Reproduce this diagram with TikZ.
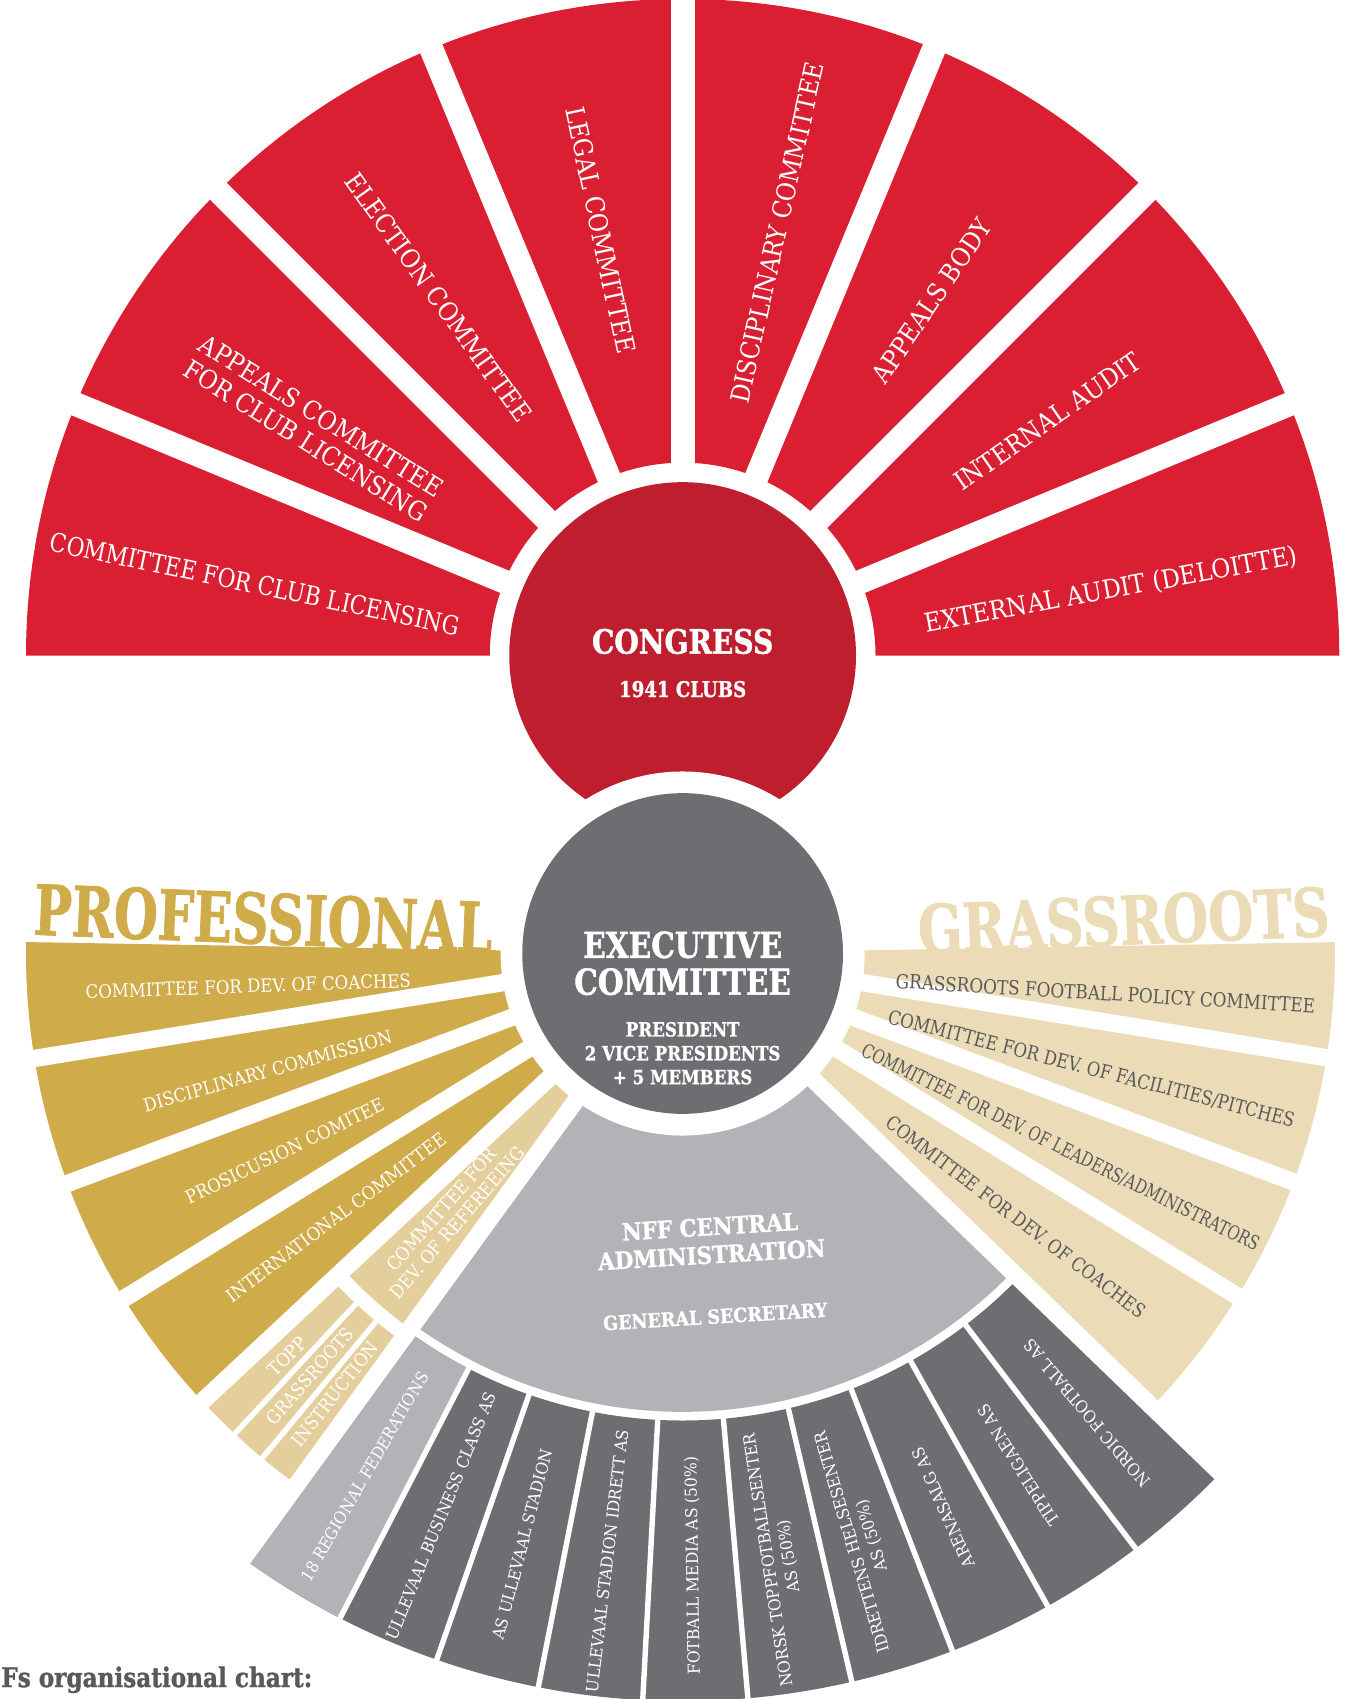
\documentclass[tikz,border=0pt]{standalone}
\usepackage{fontspec}
\setmainfont{DejaVu Serif Condensed}
\newfontface\heavyfont[FakeBold=1.2]{DejaVu Serif Condensed Bold}
\definecolor{nffred}{HTML}{DA1F33}
\definecolor{congressred}{HTML}{BE1E2D}
\definecolor{execgrey}{HTML}{6D6E71}
\definecolor{admingrey}{HTML}{B1B3B6}
\definecolor{nffgold}{HTML}{CFAB4A}
\definecolor{lightgold}{HTML}{E4CF9C}
\definecolor{beige}{HTML}{EBDCB7}
\definecolor{textgrey}{HTML}{58595B}
% centre, start angle, end angle, inner radius, outer radius, colour
\newcommand\ringpart[6]{%
  \fill[#6] ([shift={(#2:#5)}]#1) arc[start angle=#2, end angle=#3, radius=#5]
    -- ([shift={(#3:#4)}]#1) arc[start angle=#3, end angle=#2, radius=#4] -- cycle;}

\begin{document}
\begin{tikzpicture}[x=1pt,y=1pt,
  redlabel/.style={text=white, font=\fontsize{24}{27}\selectfont, align=center},
  prolabel/.style={text=white, font=\fontsize{17}{19}\selectfont, align=center},
  grlabel/.style={text=textgrey, font=\fontsize{18}{20}\selectfont},
  ringlabel/.style={text=white, font=\fontsize{16}{20}\selectfont, align=center, xscale=0.95},
  gapline/.style={white, line width=#1}]
\useasboundingbox (0,0) rectangle (1253,1568);
\coordinate (congress c) at (630,963);
\coordinate (exec c) at (630,688);

% congress fan
\ringpart{congress c}{0}{180}{178}{606}{nffred}
\foreach \a in {22.5,45,...,157.5}
  \draw[gapline=22pt] (congress c) -- ++(\a:640);
\fill[congressred] (congress c) circle[radius=160];

% lower fans
\ringpart{exec c}{179}{223}{1}{606}{nffgold}
\ringpart{exec c}{223}{234}{1}{428}{lightgold}
\ringpart{exec c}{223}{234}{442}{606}{lightgold}
\ringpart{exec c}{234}{316}{1}{423}{admingrey}
\ringpart{exec c}{234}{316}{431}{690}{execgrey}
\ringpart{exec c}{234}{242.73}{431}{690}{admingrey}
\ringpart{exec c}{316}{361}{1}{602}{beige}
\foreach \k in {1,...,9}
  \draw[gapline=5pt] ([shift={({234.66+8.07*\k}:425)}]exec c) -- ([shift={({234.66+8.07*\k}:700)}]exec c);
\foreach \a in {227,230.2}
  \draw[gapline=5pt] ([shift={(\a:436)}]exec c) -- ([shift={(\a:615)}]exec c);
\foreach \a in {189.2,200.5,211.7,223,234,316,328.3,339.5,350.8}
  \draw[gapline=16pt] (exec c) -- ++(\a:700);
\fill[white] (exec c) circle[radius=168];
\fill[execgrey] (exec c) circle[radius=148];

% titles
\node[text=nffgold, font=\heavyfont\fontsize{64}{64}\selectfont, rotate=-2.3, xscale=0.81, anchor=base] (professional) at (242,697) {PROFESSIONAL};
\node[text=beige, font=\heavyfont\fontsize{62}{62}\selectfont, rotate=2.5, xscale=0.86, anchor=base] (grassroots) at (1038,696) {GRASSROOTS};

% circles
\node[text=white, font=\heavyfont\fontsize{31}{31}\selectfont, xscale=0.93] (congress) at (630,976) {CONGRESS};
\node[text=white, font=\heavyfont\fontsize{20}{20}\selectfont, xscale=0.93] (clubs) at (630,932) {1941 CLUBS};
\node[text=white, font=\heavyfont\fontsize{33}{34}\selectfont, align=center, xscale=0.92] (exec) at (630,679) {EXECUTIVE\\COMMITTEE};
\node[text=white, font=\heavyfont\fontsize{18}{22}\selectfont, align=center, xscale=0.95] (board) at (630,596) {PRESIDENT\\2 VICE PRESIDENTS\\+ 5 MEMBERS};
\node[text=white, font=\heavyfont\fontsize{22}{26}\selectfont, align=center, rotate=3.5] (admin) at (656,423) {NFF CENTRAL\\ADMINISTRATION};
\node[text=white, font=\heavyfont\fontsize{18}{18}\selectfont, rotate=3.5] (secretary) at (660,353) {GENERAL SECRETARY};

% congress committees
\foreach \ang/\rot/\sx/\lbl [count=\i] in {8.6/10.5/1/{EXTERNAL AUDIT (DELOITTE)}, 32.7/34.8/1/INTERNAL AUDIT,
    54.9/56/1/APPEALS BODY, 77.4/77.4/1/DISCIPLINARY COMMITTEE, 100.9/-78/1/LEGAL COMMITTEE,
    124.3/-54.3/1/ELECTION COMMITTEE, 148.4/-32/1/{APPEALS COMMITTEE\\FOR CLUB LICENSING},
    170.5/-11.7/0.93/COMMITTEE FOR CLUB LICENSING}
  \node[redlabel, rotate=\rot, xscale=\sx] (red\i) at ([shift={(\ang:400)}]congress c) {\lbl};

% professional
\foreach \ang/\rad/\rot/\lbl [count=\i] in {184.3/402/2/COMMITTEE FOR DEV. OF COACHES,
    195.8/398/15.6/DISCIPLINARY COMMISSION, 206.4/410/25.8/PROSICUSION COMITEE,
    217.3/402/36.7/INTERNATIONAL COMMITTEE, 228.4/324/49/{COMMITTEE FOR\\DEV. OF REFEREEING},
    225.5/521/45.5/TOPP, 228.6/520/48.6/GRASSROOTS, 231.7/518/51.7/INSTRUCTION}
  \node[prolabel, rotate=\rot] (pro\i) at ([shift={(\ang:\rad)}]exec c) {\lbl};

% grassroots
\foreach \ang/\rot/\sx/\lbl [count=\i] in {-5.4/-3.4/0.96/GRASSROOTS FOOTBALL POLICY COMMITTEE,
    -15.8/-14.4/0.94/{COMMITTEE FOR DEV. OF FACILITIES/PITCHES},
    -27.2/-26.4/0.85/{COMMITTEE FOR DEV. OF LEADERS/ADMINISTRATORS},
    -38.3/-37.2/0.93/COMMITTEE FOR DEV. OF COACHES}
  \node[grlabel, rotate=\rot, xscale=\sx] (gr\i) at ([shift={(\ang:392)}]exec c) {\lbl};

% companies
\foreach \lbl [count=\i from 0] in {18 REGIONAL FEDERATIONS, ULLEVAAL BUSINESS CLASS AS, AS ULLEVAAL STADION,
    ULLEVAAL STADION IDRETT AS, FOTBALL MEDIA AS (50\%), {NORSK TOPPFOTBALLSENTER\\AS (50\%)},
    {IDRETTENS HELSESENTER\\AS (50\%)}, ARENASALG AS, TIPPELIGAEN AS, NORDIC FOOTBALL AS}
  {\pgfmathsetmacro\mid{238.7+8.07*\i}
   \node[ringlabel, rotate=\mid-180] (company\i) at ([shift={(\mid:565)}]exec c) {\lbl};}

\node[text=textgrey, font=\heavyfont\fontsize{25}{25}\selectfont, anchor=base west, xscale=0.95, inner sep=0pt] (caption) at (1,11) {Fs organisational chart:};
\end{tikzpicture}
\end{document}
